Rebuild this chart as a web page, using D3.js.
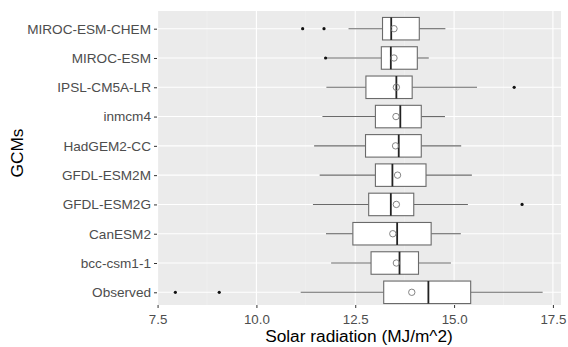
<!DOCTYPE html>
<html><head><meta charset="utf-8">
<script src="https://cdn.jsdelivr.net/npm/d3@7"></script>
<style>body{margin:0;background:#fff}svg{display:block}text{font-family:"Liberation Sans",Arial,sans-serif}</style>
</head><body><svg id="c" width="568" height="347"></svg>
<script>
const categories = ["MIROC-ESM-CHEM","MIROC-ESM","IPSL-CM5A-LR","inmcm4","HadGEM2-CC","GFDL-ESM2M","GFDL-ESM2G","CanESM2","bcc-csm1-1","Observed"];
const whiskerLow  = [12.33, 11.78, 11.77, 11.67, 11.46, 11.60, 11.43, 11.76, 11.89, 11.12];
const q1          = [13.19, 13.16, 12.77, 13.01, 12.76, 13.01, 12.84, 12.44, 12.90, 13.22];
const median      = [13.41, 13.40, 13.54, 13.64, 13.60, 13.44, 13.40, 13.56, 13.62, 14.35];
const q3          = [14.12, 14.07, 13.94, 14.17, 14.17, 14.29, 13.98, 14.42, 14.10, 15.42];
const whiskerHigh = [14.78, 14.36, 15.58, 14.77, 15.18, 15.45, 15.35, 15.17, 14.92, 17.24];
const means       = [13.48, 13.48, 13.54, 13.53, 13.52, 13.57, 13.54, 13.45, 13.54, 13.93];
const outliers    = [[11.17, 11.71], [11.75], [16.52], [], [], [], [16.72], [], [], [7.95, 9.06]];
const xTicks = [7.5, 10.0, 12.5, 15.0, 17.5];
const xMinor = [8.75, 11.25, 13.75, 16.25];

const svg = d3.select("#c");
const panel = {left:157, right:561, top:11, bottom:305};
const allVals = whiskerLow.concat(whiskerHigh, outliers.flat());
const lo = d3.min(allVals), hi = d3.max(allVals), pad = (hi-lo)*0.05;
const x = d3.scaleLinear().domain([lo-pad, hi+pad]).range([panel.left, panel.right]);
const y = d3.scalePoint().domain(categories).range([28.7, 292.3]);
const bh = 22.5;

svg.append("rect").attr("x",panel.left).attr("y",panel.top).attr("width",panel.right-panel.left).attr("height",panel.bottom-panel.top).attr("fill","#EBEBEB");
const g = svg.append("g");
g.selectAll(".mn").data(xMinor).join("line").attr("x1",d=>x(d)).attr("x2",d=>x(d)).attr("y1",panel.top).attr("y2",panel.bottom).attr("stroke","#F4F4F4").attr("stroke-width",0.6);
g.selectAll(".mj").data(xTicks).join("line").attr("x1",d=>x(d)).attr("x2",d=>x(d)).attr("y1",panel.top).attr("y2",panel.bottom).attr("stroke","#fff").attr("stroke-width",1.1);
g.selectAll(".hj").data(categories).join("line").attr("x1",panel.left).attr("x2",panel.right).attr("y1",d=>y(d)).attr("y2",d=>y(d)).attr("stroke","#fff").attr("stroke-width",1.1);

const data = categories.map((c,i)=>({c, wl:whiskerLow[i], q1:q1[i], md:median[i], q3:q3[i], wh:whiskerHigh[i], mean:means[i], out:outliers[i]}));
const b = svg.append("g").selectAll("g").data(data).join("g");
b.append("line").attr("x1",d=>x(d.wl)).attr("x2",d=>x(d.q1)).attr("y1",d=>y(d.c)).attr("y2",d=>y(d.c)).attr("stroke","#6a6a6a").attr("stroke-width",1.1);
b.append("line").attr("x1",d=>x(d.q3)).attr("x2",d=>x(d.wh)).attr("y1",d=>y(d.c)).attr("y2",d=>y(d.c)).attr("stroke","#6a6a6a").attr("stroke-width",1.1);
b.append("rect").attr("x",d=>x(d.q1)).attr("width",d=>x(d.q3)-x(d.q1)).attr("y",d=>y(d.c)-bh/2).attr("height",bh).attr("fill","#fff").attr("stroke","#6a6a6a").attr("stroke-width",1.1);
b.append("line").attr("x1",d=>x(d.md)).attr("x2",d=>x(d.md)).attr("y1",d=>y(d.c)-bh/2).attr("y2",d=>y(d.c)+bh/2).attr("stroke","#222").attr("stroke-width",1.8);
b.each(function(d){
  d3.select(this).selectAll("circle.o").data(d.out).join("circle").attr("class","o").attr("cx",v=>x(v)).attr("cy",y(d.c)).attr("r",1.6).attr("fill","#111");
});
b.append("circle").attr("cx",d=>x(d.mean)).attr("cy",d=>y(d.c)).attr("r",3.2).attr("fill","none").attr("stroke","#777").attr("stroke-width",0.9);

// axes
const xa = svg.append("g").attr("transform",`translate(0,${panel.bottom})`)
  .call(d3.axisBottom(x).tickValues(xTicks).tickFormat(d3.format(".1f")).tickSizeInner(3).tickSizeOuter(0).tickPadding(7));
xa.select(".domain").remove();
xa.selectAll("line").attr("stroke","#333");
xa.selectAll("text").attr("fill","#4D4D4D").attr("font-size",13.3);

const ya = svg.append("g").attr("transform",`translate(${panel.left},0)`)
  .call(d3.axisLeft(y).tickSizeInner(3).tickSizeOuter(0).tickPadding(3));
ya.select(".domain").remove();
ya.selectAll("line").attr("stroke","#333");
ya.selectAll("text").attr("fill","#4D4D4D").attr("font-size",13.6);

svg.append("text").attr("x",(panel.left+panel.right)/2).attr("y",342).attr("text-anchor","middle").attr("font-size",17.3).attr("fill","#000").text("Solar radiation (MJ/m^2)");
svg.append("text").attr("transform","translate(23,153) rotate(-90)").attr("text-anchor","middle").attr("font-size",17.3).attr("fill","#000").text("GCMs");
</script></body></html>
